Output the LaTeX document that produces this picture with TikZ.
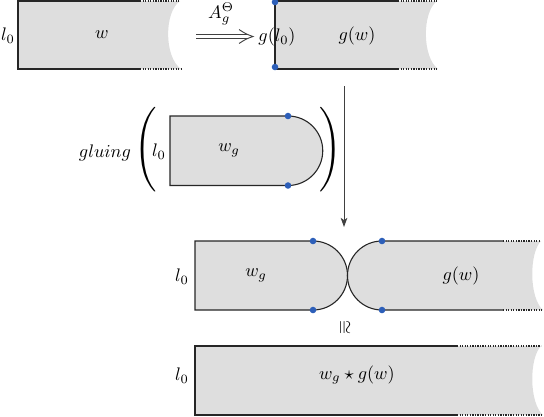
\documentclass[tikz,border=0pt]{standalone}
\usepackage{amssymb,graphicx}
\usetikzlibrary{arrows.meta,calc}
\definecolor{stripgray}{RGB}{222,222,222}
\definecolor{dotblue}{RGB}{45,95,185}
\begin{document}
\begin{tikzpicture}[x=0.55pt,y=-0.55pt,
  edge/.style={line width=0.6pt, draw=black!85},
  dotedge/.style={line width=0.6pt, draw=black!85, dash pattern=on 0.7pt off 0.7pt},
  arrowline/.style={line width=0.5pt, draw=black!75},
  bluedot/.style={circle, fill=dotblue, inner sep=0pt, minimum size=3.6pt},
  lab/.style={inner sep=1pt}]
\useasboundingbox (0,0) rectangle (544,416);

% ---- strip 1: w
\fill[stripgray] (18,1) -- (180,1) .. controls (164,12) and (164,57) .. (181,69) -- (18,69) -- cycle;
\draw[edge] (140,1) -- (18,1) -- (18,69) -- (140,69);
\draw[dotedge] (140,1) -- (180,1);
\draw[dotedge] (140,69) -- (181,69);
\node[lab] (l1) at (8,36) {$l_0$};
\node[lab] (w1) at (102,35) {$w$};

% ---- arrow A_g (double arrow)
\coordinate (da1) at (196,36.5);
\coordinate (da2) at (253,36.5);
\draw[arrowline] ($(da1)+(0,-2)$) -- ($(da2)+(-6,-2)$);
\draw[arrowline] ($(da1)+(0,2)$) -- ($(da2)+(-6,2)$);
\draw[arrowline, line join=miter] ($(da2)+(-14,-7)$) .. controls ($(da2)+(-7,-2.5)$) .. (da2) .. controls ($(da2)+(-7,2.5)$) .. ($(da2)+(-14,7)$);
\node[lab] (Ag) at (221,14) {$A_g^{\Theta}$};

% ---- strip 2: g(w)
\fill[stripgray] (275,1) -- (437,1) .. controls (422,12) and (422,57) .. (438,69) -- (275,69) -- cycle;
\draw[edge] (398,1) -- (275,1) -- (275,69) -- (398,69);
\draw[dotedge] (398,1) -- (437,1);
\draw[dotedge] (398,69) -- (438,69);
\node[bluedot] (b1) at (275,2) {};
\node[bluedot] (b2) at (275,67) {};
\node[lab] (gl0) at (277,37) {$g(l_0)$};
\node[lab] (gw1) at (357,36) {$g(w)$};

% ---- vertical arrow
\coordinate (va1) at (344,86);
\coordinate (va2) at (344,227);
\draw[arrowline, -{Stealth[length=5pt,width=3.6pt,inset=1.2pt]}] (va1) -- (va2);

% ---- gluing
\node[lab] (glu) at (105,153) {$gluing$};
\node[inner sep=0pt] (lp) at (146,150) {\scalebox{1.55}{$\Bigg($}};
\node[inner sep=0pt] (rp) at (331,150) {\scalebox{1.55}{$\Bigg)$}};
\fill[stripgray] (170,116) -- (288,116) arc[start angle=-90, end angle=90, radius=34.75] -- (170,185.5) -- cycle;
\draw[edge] (288,116) -- (170,116) -- (170,185.5) -- (288,185.5) arc[start angle=90, end angle=-90, radius=34.75];
\node[bluedot] (b3) at (288,116) {};
\node[bluedot] (b4) at (288,185.5) {};
\node[lab] (l2) at (159,152) {$l_0$};
\node[lab] (wg1) at (229,150) {$w_g$};

% ---- strip 3: w_g and g(w)
\fill[stripgray] (195,241) -- (313,241) arc[start angle=-90, end angle=90, radius=34.5] -- (195,310) -- cycle;
\draw[edge] (313,241) -- (195,241) -- (195,310) -- (313,310) arc[start angle=90, end angle=-90, radius=34.5];
\fill[stripgray] (382,241) arc[start angle=-90, end angle=-270, radius=34.5] -- (543,310) .. controls (529,298) and (529,253) .. (541,241) -- cycle;
\draw[edge] (503,241) -- (382,241) arc[start angle=-90, end angle=-270, radius=34.5] -- (503,310);
\draw[dotedge] (503,241) -- (541,241);
\draw[dotedge] (503,310) -- (543,310);
\node[bluedot] (b5) at (313,241) {};
\node[bluedot] (b6) at (313,310) {};
\node[bluedot] (b7) at (382,241) {};
\node[bluedot] (b8) at (382,310) {};
\node[lab] (l3) at (182,277) {$l_0$};
\node[lab] (wg2) at (256,275) {$w_g$};
\node[lab] (gw2) at (461,276) {$g(w)$};

% ---- congruence
\node[inner sep=0pt] (cong) at (344,328) {\rotatebox{-90}{$\cong$}};

% ---- strip 4
\fill[stripgray] (195,346) -- (541,346) .. controls (529,358) and (529,403) .. (543,415) -- (195,415) -- cycle;
\draw[edge] (457,346) -- (195,346) -- (195,415) -- (457,415);
\draw[dotedge] (457,346) -- (541,346);
\draw[dotedge] (457,415) -- (543,415);
\node[lab] (l4) at (182,376) {$l_0$};
\node[lab] (wgw) at (357,375) {$w_g\star g(w)$};
\end{tikzpicture}
\end{document}
